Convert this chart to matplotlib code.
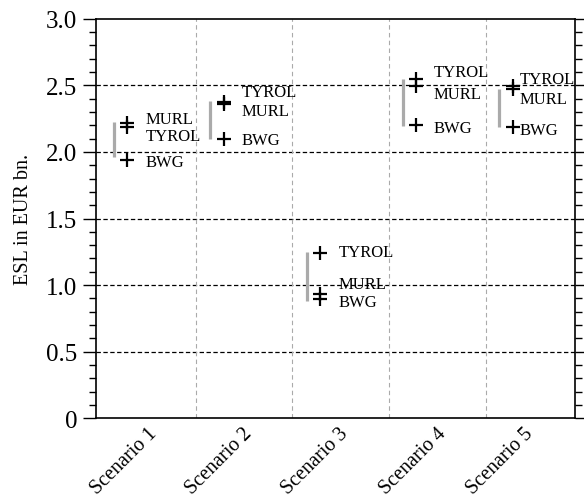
import matplotlib
matplotlib.use('Agg')
import matplotlib.pyplot as plt
from matplotlib.ticker import MultipleLocator, FixedLocator

# ---- data ----
scenarios = ['Scenario 1', 'Scenario 2', 'Scenario 3', 'Scenario 4', 'Scenario 5']
tyrol = [2.185, 2.378, 1.241, 2.551, 2.497]
murl = [2.215, 2.363, 0.933, 2.498, 2.472]
bwg = [1.939, 2.097, 0.896, 2.200, 2.185]
range_low = [1.959, 2.097, 0.878, 2.197, 2.185]
range_high = [2.222, 2.380, 1.251, 2.547, 2.472]
yticks = [0, 0.5, 1.0, 1.5, 2.0, 2.5, 3.0]
ytick_labels = ['0', '0.5', '1.0', '1.5', '2.0', '2.5', '3.0']

# ---- layout ----
xpos = [1, 2, 3, 4, 5]
bar_shift = -0.138
grid_x = [1.713, 2.713, 3.715, 4.72]
tick_x = [1.35, 2.34, 3.33, 4.35, 5.25]
# label offsets in pixels (dx, dy of text centre relative to marker)
lab_dx = [18, 18, 19, 17, 7]
lab_dy = {
    'TYROL': [-6.8, 10.8, 2.3, 7.9, 8.4],
    'MURL': [6.0, -5.5, 11.7, -6.8, -8.3],
    'BWG': [0.0, 0.0, -1.7, -1.0, -0.8],
}

plt.rcParams['font.family'] = ['Liberation Serif', 'DejaVu Serif']

fig = plt.figure(figsize=(5.84, 5.02), dpi=100)
ax = fig.add_axes([96 / 584, 1 - 419.3 / 502, (575 - 96) / 584, (419.3 - 19.7) / 502])

ax.set_xlim(0.675, 5.647)
ax.set_ylim(0, 3.0)

# grids
for yv in yticks[1:-1]:
    ax.axhline(yv, color='black', lw=0.9, ls=(0, (3.5, 2)), zorder=1)
for gx in grid_x:
    ax.axvline(gx, color='#aaaaaa', lw=0.8, ls=(0, (4, 3)), zorder=1)

# range bars
for i, x in enumerate(xpos):
    ax.plot([x + bar_shift, x + bar_shift], [range_low[i], range_high[i]],
            color='#aaaaaa', lw=2.3, solid_capstyle='butt', zorder=2)

# markers
series = {'MURL': murl, 'TYROL': tyrol, 'BWG': bwg}
for name, vals in series.items():
    ax.plot(xpos, vals, ls='none', marker='+', ms=10, mew=1.6, color='black', zorder=3)
    for i, x in enumerate(xpos):
        ax.annotate(name, (x, vals[i]), xytext=(lab_dx[i], lab_dy[name][i] - 5.5),
                    textcoords='offset pixels', ha='left', va='baseline',
                    fontsize=12, color='black', zorder=4)

# axes styling
ax.set_yticks(yticks)
ax.set_yticklabels(ytick_labels, fontsize=18)
ax.yaxis.set_minor_locator(MultipleLocator(0.1))
ax.tick_params(axis='y', which='major', direction='out', length=9.5, width=1.0,
               left=True, right=True, pad=4)
ax.tick_params(axis='y', which='minor', direction='out', length=5, width=1.0,
               left=True, right=True)

ax.xaxis.set_major_locator(FixedLocator(tick_x))
ax.set_xticklabels(scenarios, rotation=45, ha='right', fontsize=14.5)
ax.tick_params(axis='x', which='both', length=0, pad=4)

for sp in ax.spines.values():
    sp.set_linewidth(1.2)

ax.set_ylabel('ESL in EUR bn.', fontsize=14.5, labelpad=9)

fig.savefig('out.png', dpi=100)
